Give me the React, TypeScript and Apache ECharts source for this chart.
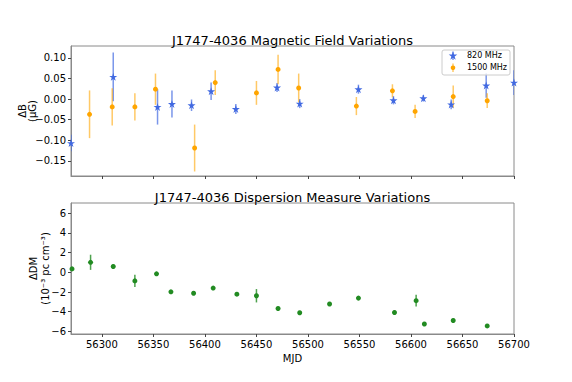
import { useEffect, useRef } from 'react';
import * as echarts from 'echarts';

// ---- data ----
const xTicks = [56300, 56350, 56400, 56450, 56500, 56550, 56600, 56650, 56700];
const bTicks = [-0.15, -0.1, -0.05, 0, 0.05, 0.1];
const dmTicks = [-6, -4, -2, 0, 2, 4, 6];

const b820Mjd = [56270, 56311, 56354, 56368, 56387, 56406, 56430, 56470, 56492, 56549, 56583, 56612, 56639, 56673, 56700];
const b820Val = [-0.107, 0.054, -0.019, -0.012, -0.015, 0.019, -0.024, 0.028, -0.011, 0.024, -0.003, 0.002, -0.013, 0.033, 0.040];
const b820Err = [0.02, 0.059, 0.043, 0.033, 0.014, 0.021, 0.012, 0.011, 0.011, 0.011, 0.01, 0.008, 0.012, 0.03, 0.03];

const b1500Mjd = [56288, 56310, 56332, 56352, 56390, 56410, 56450, 56471, 56491, 56547, 56582, 56604, 56641, 56674];
const b1500Val = [-0.037, -0.019, -0.019, 0.024, -0.119, 0.040, 0.015, 0.072, 0.027, -0.017, 0.020, -0.030, 0.006, -0.004];
const b1500Err = [0.058, 0.045, 0.033, 0.038, 0.057, 0.030, 0.029, 0.036, 0.035, 0.022, 0.016, 0.016, 0.027, 0.018];

const dmMjd = [56271, 56289, 56311, 56332, 56353, 56367, 56389, 56408, 56431, 56450, 56471, 56492, 56521, 56549, 56584, 56605, 56613, 56641, 56674];
const dmVal = [0.35, 1.02, 0.59, -0.87, -0.15, -1.98, -2.13, -1.6, -2.22, -2.38, -3.68, -4.11, -3.22, -2.62, -4.08, -2.88, -5.25, -4.9, -5.45];
const dmErr = [0.15, 0.77, 0.2, 0.62, 0.2, 0.15, 0.15, 0.15, 0.15, 0.68, 0.15, 0.15, 0.15, 0.15, 0.15, 0.6, 0.15, 0.15, 0.15];

const titleTop = 'J1747-4036 Magnetic Field Variations';
const titleBottom = 'J1747-4036 Dispersion Measure Variations';
const legendNames = ['820 MHz', '1500 MHz'];

const FONT = 'DejaVu Sans';
const BLUE = '#4169e1';
const ORANGE = '#ffa500';
const GREEN = '#228b22';
const FRAME = '#8a8a8a';

const STAR = 'path://M50,0 L61.17,34.63 L97.55,34.55 L68.07,55.87 L79.39,90.45 L50,69 L20.61,90.45 L31.93,55.87 L2.45,34.55 L38.83,34.63 Z';

function starPoints(cx: number, cy: number, R: number): number[][] {
  const pts: number[][] = [];
  for (let k = 0; k < 10; k++) {
    const a = -Math.PI / 2 + (k * Math.PI) / 5;
    const r = k % 2 === 0 ? R : R * 0.38;
    pts.push([cx + r * Math.cos(a), cy + r * Math.sin(a)]);
  }
  return pts;
}

function errData(m: number[], v: number[], e: number[]) {
  return m.map((x, i) => [x, v[i] - e[i], v[i] + e[i]]);
}

function errSeries(data: number[][], idx: number, color: string, opacity: number) {
  return {
    type: 'custom',
    xAxisIndex: idx,
    yAxisIndex: idx,
    clip: true,
    z: 2,
    encode: { x: 0, y: [1, 2] },
    data,
    renderItem: (_p: any, api: any) => {
      const a = api.coord([api.value(0), api.value(1)]);
      const b = api.coord([api.value(0), api.value(2)]);
      return {
        type: 'line',
        shape: { x1: a[0], y1: a[1], x2: b[0], y2: b[1] },
        style: { stroke: color, lineWidth: 1.5, opacity },
      };
    },
  };
}

const minus = (s: string) => s.replace('-', '\u2212');

export default function App() {
  const ref = useRef<HTMLDivElement>(null);
  useEffect(() => {
    document.body.style.margin = '0';
    const chart = echarts.init(ref.current!, undefined, { renderer: 'svg' });
    const axisLine = { show: true, onZero: false, lineStyle: { color: FRAME, width: 1 } };
    const tick = (vals: number[]) => ({ show: true, length: 3, lineStyle: { color: '#444' }, customValues: vals });
    const labelStyle = { fontSize: 10, color: '#000', fontFamily: FONT };
    const legendX = 453;
    const option: any = {
      animation: false,
      grid: [
        { left: 71, top: 46, width: 443, height: 130, show: true, borderColor: FRAME, borderWidth: 1 },
        { left: 71, top: 203, width: 443, height: 131, show: true, borderColor: FRAME, borderWidth: 1 },
      ],
      xAxis: [
        {
          type: 'value', gridIndex: 0, min: 56270, max: 56700,
          axisLine, axisTick: tick(xTicks), axisLabel: { show: false }, splitLine: { show: false },
        },
        {
          type: 'value', gridIndex: 1, min: 56270, max: 56700,
          axisLine, axisTick: tick(xTicks),
          axisLabel: { ...labelStyle, margin: 5, customValues: xTicks, formatter: (v: number) => String(v) },
          splitLine: { show: false },
          name: 'MJD', nameLocation: 'middle', nameGap: 19,
          nameTextStyle: { fontSize: 10, color: '#000', fontFamily: FONT },
        },
      ],
      yAxis: [
        {
          type: 'value', gridIndex: 0, min: -0.187, max: 0.129,
          axisLine, axisTick: tick(bTicks),
          axisLabel: { ...labelStyle, margin: 5, customValues: bTicks, formatter: (v: number) => minus(v.toFixed(2)) },
          splitLine: { show: false },
        },
        {
          type: 'value', gridIndex: 1, min: -6.27, max: 7.05,
          axisLine, axisTick: tick(dmTicks),
          axisLabel: { ...labelStyle, margin: 5, customValues: dmTicks, formatter: (v: number) => minus(String(v)) },
          splitLine: { show: false },
        },
      ],
      series: [
        errSeries(errData(b820Mjd, b820Val, b820Err), 0, BLUE, 0.7),
        errSeries(errData(b1500Mjd, b1500Val, b1500Err), 0, ORANGE, 0.6),
        errSeries(errData(dmMjd, dmVal, dmErr), 1, GREEN, 0.8),
        {
          name: legendNames[0], type: 'scatter', xAxisIndex: 0, yAxisIndex: 0, z: 3,
          symbol: STAR, symbolSize: 8, itemStyle: { color: BLUE, opacity: 1 },
          data: b820Mjd.map((m, i) => [m, b820Val[i]]),
        },
        {
          name: legendNames[1], type: 'scatter', xAxisIndex: 0, yAxisIndex: 0, z: 3,
          symbol: 'circle', symbolSize: 5, itemStyle: { color: ORANGE, opacity: 1 },
          data: b1500Mjd.map((m, i) => [m, b1500Val[i]]),
        },
        {
          name: 'DM', type: 'scatter', xAxisIndex: 1, yAxisIndex: 1, z: 3,
          symbol: 'circle', symbolSize: 5, itemStyle: { color: GREEN, opacity: 1 },
          data: dmMjd.map((m, i) => [m, dmVal[i]]),
        },
      ],
      graphic: [
        { type: 'text', x: 292.5, y: 40.5, style: { text: titleTop, fontSize: 13, fontFamily: FONT, fill: '#000', align: 'center', verticalAlign: 'middle' } },
        { type: 'text', x: 292.5, y: 197, style: { text: titleBottom, fontSize: 13, fontFamily: FONT, fill: '#000', align: 'center', verticalAlign: 'middle' } },
        { type: 'text', x: 22, y: 111, rotation: Math.PI / 2, style: { text: '\u0394B', fontSize: 10, fontFamily: FONT, fill: '#000', align: 'center', verticalAlign: 'middle' } },
        { type: 'text', x: 32, y: 111, rotation: Math.PI / 2, style: { text: '(\u03bcG)', fontSize: 10, fontFamily: FONT, fill: '#000', align: 'center', verticalAlign: 'middle' } },
        { type: 'text', x: 33, y: 268.5, rotation: Math.PI / 2, style: { text: '\u0394DM', fontSize: 10, fontFamily: FONT, fill: '#000', align: 'center', verticalAlign: 'middle' } },
        { type: 'text', x: 45, y: 268.5, rotation: Math.PI / 2, style: { text: '(10\u207b\u00b3 pc cm\u207b\u00b3)', fontSize: 10, fontFamily: FONT, fill: '#000', align: 'center', verticalAlign: 'middle' } },
        // legend
        { type: 'rect', shape: { x: 442, y: 50, width: 68, height: 25, r: 2 }, style: { fill: 'rgba(255,255,255,0.8)', stroke: '#cccccc', lineWidth: 1 }, z: 10 },
        { type: 'line', shape: { x1: legendX, y1: 51.5, x2: legendX, y2: 60 }, style: { stroke: BLUE, lineWidth: 1.5, opacity: 0.7 }, z: 11 },
        { type: 'polygon', shape: { points: starPoints(legendX, 56, 4.5) }, style: { fill: BLUE }, z: 12 },
        { type: 'text', x: 467, y: 55.7, style: { text: legendNames[0], fontSize: 8, fontFamily: FONT, fill: '#000', align: 'left', verticalAlign: 'middle' }, z: 12 },
        { type: 'line', shape: { x1: legendX, y1: 63.5, x2: legendX, y2: 72 }, style: { stroke: ORANGE, lineWidth: 1.5, opacity: 0.6 }, z: 11 },
        { type: 'circle', shape: { cx: legendX, cy: 67.7, r: 2.3 }, style: { fill: ORANGE }, z: 12 },
        { type: 'text', x: 467, y: 67.7, style: { text: legendNames[1], fontSize: 8, fontFamily: FONT, fill: '#000', align: 'left', verticalAlign: 'middle' }, z: 12 },
      ],
    };
    chart.setOption(option);
    return () => chart.dispose();
  }, []);
  return <div ref={ref} style={{ width: 572, height: 382, position: 'fixed', left: 0, top: 0, background: '#fff' }} />;
}
